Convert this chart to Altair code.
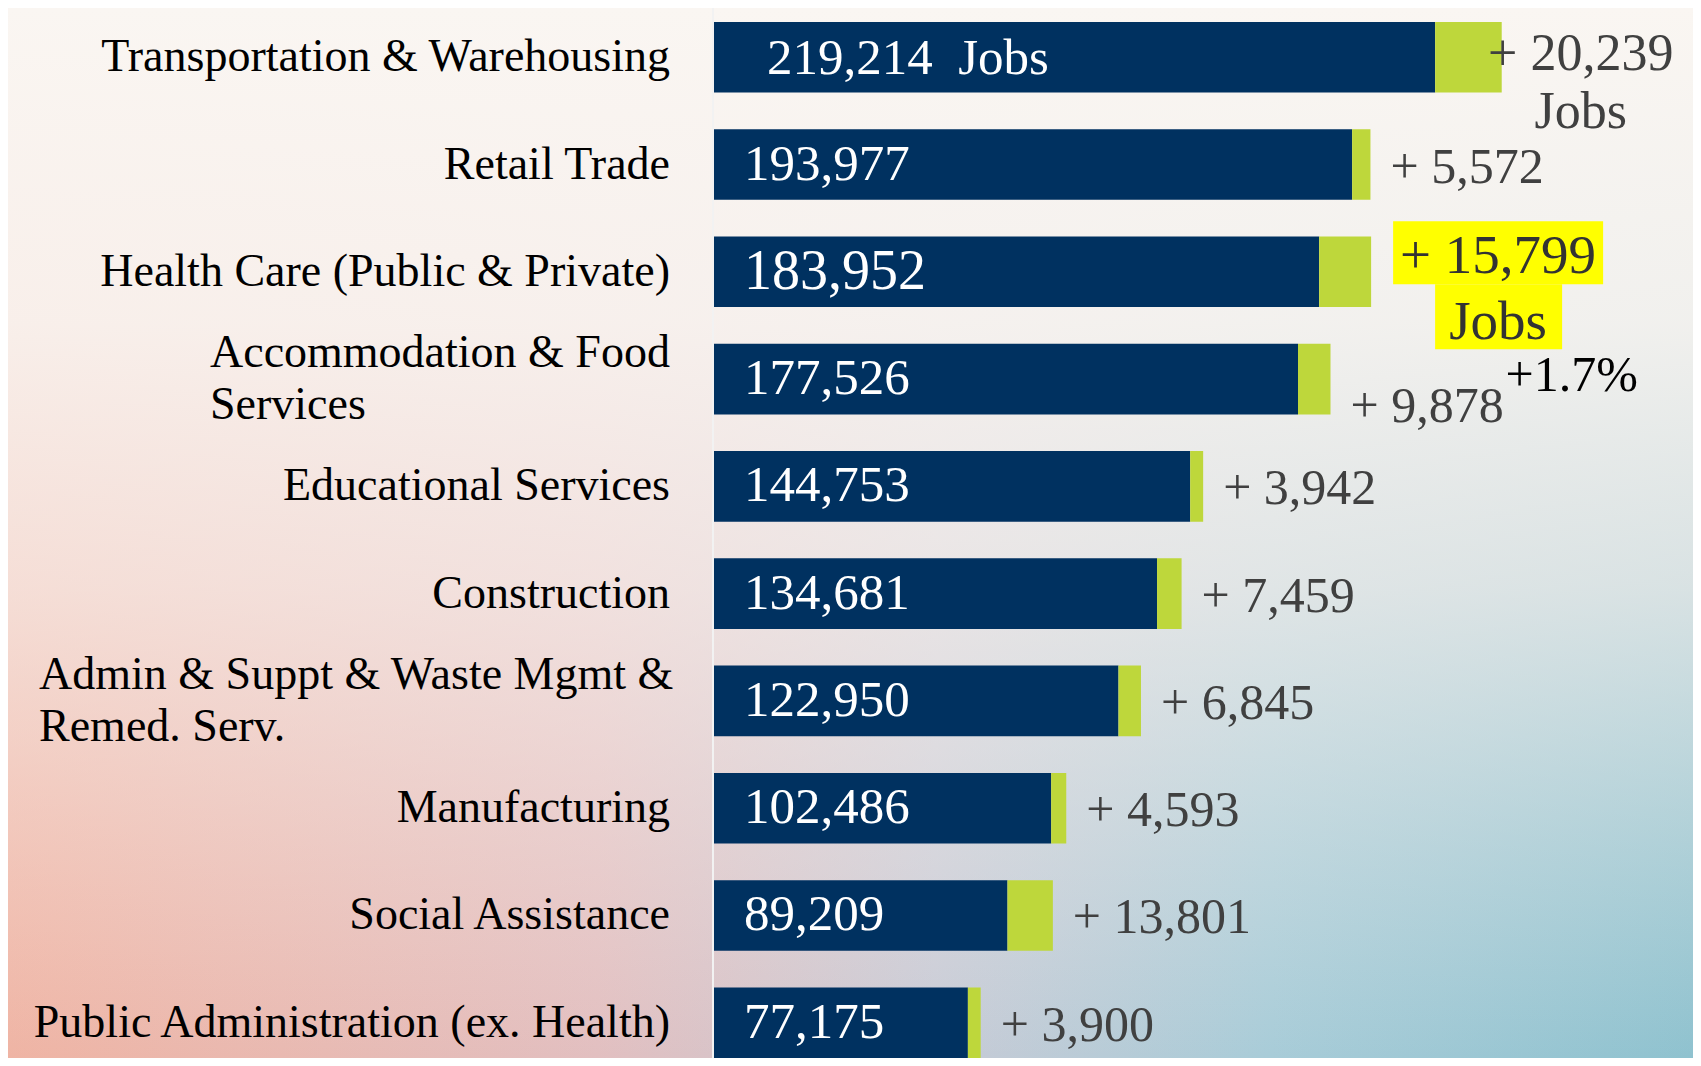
import altair as alt
import pandas as pd

# ---------------- data ----------------
industries = [
    "Transportation & Warehousing",
    "Retail Trade",
    "Health Care (Public & Private)",
    "Accommodation & Food\nServices",
    "Educational Services",
    "Construction",
    "Admin & Suppt & Waste Mgmt &\nRemed. Serv.",
    "Manufacturing",
    "Social Assistance",
    "Public Administration (ex. Health)",
]
jobs = [219214, 193977, 183952, 177526, 144753, 134681, 122950, 102486, 89209, 77175]
growth = [20239, 5572, 15799, 9878, 3942, 7459, 6845, 4593, 13801, 3900]
jobs_word = "Jobs"
note_text = "+1.7%"

rows = []
for i, (name, j, g) in enumerate(zip(industries, jobs, growth)):
    rows.append({
        "industry": name,
        "rank": i,
        "jobs": j,
        "growth": g,
        "total": j + g,
        "base_label": f"{j:,}" + ("\u00a0\u00a0" + jobs_word if i == 0 else ""),
        "growth_label": f"+ {g:,}" + ("\n" + jobs_word if i in (0, 2) else ""),
    })
df = pd.DataFrame(rows)

# ---------------- layout / style ----------------
FONT = "Liberation Serif"
W, H = 979, 1036
XMAX = 297600
NAVY = "#003160"
LIME = "#BED73B"
GREY = "#404040"

xs = alt.Scale(domain=[0, XMAX], nice=False, zero=True)
ys = alt.Scale(domain=industries, paddingInner=0.342, paddingOuter=0)
Y = alt.Y("industry:N", scale=ys, axis=None, sort=None)

def X(field):
    return alt.X(field, scale=xs, axis=None)

one = alt.Data(values=[{"k": 1}])

grad_base = alt.LinearGradient(
    gradient="linear", x1=0, y1=0, x2=1, y2=0,
    stops=[
        alt.GradientStop(offset=0, color="#EFB4A4"),
        alt.GradientStop(offset=0.35, color="#E2BFC0"),
        alt.GradientStop(offset=0.55, color="#C8CBD6"),
        alt.GradientStop(offset=0.75, color="#A8CCD8"),
        alt.GradientStop(offset=1, color="#8FC2CF"),
    ],
)
grad_top = alt.LinearGradient(
    gradient="linear", x1=0, y1=0, x2=0, y2=1,
    stops=[
        alt.GradientStop(offset=0, color="rgba(250,246,242,1)"),
        alt.GradientStop(offset=0.3, color="rgba(249,244,240,0.92)"),
        alt.GradientStop(offset=0.55, color="rgba(248,240,236,0.7)"),
        alt.GradientStop(offset=0.8, color="rgba(248,240,236,0.3)"),
        alt.GradientStop(offset=1, color="rgba(248,240,236,0)"),
    ],
)

bg = alt.Chart(one).mark_rect(color=grad_base).encode(
    x=alt.value(-706), x2=alt.value(W), y=alt.value(-14), y2=alt.value(H)
)
bg2 = alt.Chart(one).mark_rect(color=grad_top).encode(
    x=alt.value(-706), x2=alt.value(W), y=alt.value(-14), y2=alt.value(H)
)
rule = alt.Chart(one).mark_rule(color="#F2F2F2", strokeWidth=2).encode(
    x=alt.value(-1), y=alt.value(-14), y2=alt.value(H)
)

base = alt.Chart(df)

dark = base.mark_bar(color=NAVY).encode(x=X("jobs:Q"), y=Y)
green = base.mark_bar(color=LIME).encode(x=X("jobs:Q"), x2="total:Q", y=Y)

hl1 = base.transform_filter("datum.rank == 2").mark_bar(
    color="#FFFF00", height=63, xOffset=22, x2Offset=232, yOffset=-19
).encode(x=X("total:Q"), x2="total:Q", y=Y)
hl2 = base.transform_filter("datum.rank == 2").mark_bar(
    color="#FFFF00", height=65, xOffset=64, x2Offset=191, yOffset=45
).encode(x=X("total:Q"), x2="total:Q", y=Y)

vals = base.transform_filter("datum.rank != 0").mark_text(
    align="left", baseline="middle", dx=30, color="white", font=FONT
).encode(
    x=alt.value(0), y=Y, text="base_label:N",
    size=alt.condition("datum.rank == 2", alt.value(56), alt.value(51)),
)
vals0 = base.transform_filter("datum.rank == 0").mark_text(
    align="left", baseline="middle", dx=53, dy=2, color="white", font=FONT, fontSize=51
).encode(x=alt.value(0), y=Y, text="base_label:N")

lab_r = base.transform_filter("datum.rank != 3 && datum.rank != 6").mark_text(
    align="right", baseline="middle", fontSize=46, font=FONT, color="black"
).encode(x=alt.value(-44), y=Y, text="industry:N")
lab_acc = base.transform_filter("datum.rank == 3").mark_text(
    align="left", baseline="middle", fontSize=46, font=FONT, color="black",
    lineBreak="\n", lineHeight=52, dy=-26,
).encode(x=alt.value(-504), y=Y, text="industry:N")
lab_adm = base.transform_filter("datum.rank == 6").mark_text(
    align="left", baseline="middle", fontSize=46, font=FONT, color="black",
    lineBreak="\n", lineHeight=52, dy=-26,
).encode(x=alt.value(-675), y=Y, text="industry:N")

g_main = base.transform_filter("datum.rank != 0 && datum.rank != 2 && datum.rank != 3").mark_text(
    align="left", baseline="middle", dx=20, dy=3, fontSize=50, font=FONT, color=GREY
).encode(x=X("total:Q"), y=Y, text="growth_label:N")
g_acc = base.transform_filter("datum.rank == 3").mark_text(
    align="left", baseline="middle", dx=20, dy=28, fontSize=50, font=FONT, color=GREY
).encode(x=X("total:Q"), y=Y, text="growth_label:N")
g_tr = base.transform_filter("datum.rank == 0").mark_text(
    align="center", baseline="middle", dx=79, dy=-3, fontSize=52, font=FONT, color=GREY,
    lineBreak="\n", lineHeight=58,
).encode(x=X("total:Q"), y=Y, text="growth_label:N")
g_hc = base.transform_filter("datum.rank == 2").mark_text(
    align="center", baseline="middle", dx=127, dy=-16, fontSize=55, font=FONT, color="#333333",
    lineBreak="\n", lineHeight=66,
).encode(x=X("total:Q"), y=Y, text="growth_label:N")
note = base.transform_filter("datum.rank == 3").mark_text(
    align="left", baseline="middle", dx=175, dy=-3, fontSize=50, font=FONT, color="black"
).encode(x=X("total:Q"), y=Y, text=alt.value(note_text))

chart = alt.layer(
    bg, bg2, rule, dark, green, hl1, hl2, vals, vals0, lab_r, lab_acc, lab_adm,
    g_main, g_acc, g_tr, g_hc, note,
).properties(
    width=W, height=H,
    autosize=alt.AutoSizeParams(type="none"),
    padding={"left": 706, "top": 14, "right": 0, "bottom": 0},
    background="#F8F4F0",
).configure_view(stroke=None)

chart.save("out.html", embed_options={"renderer": "svg", "actions": False})
